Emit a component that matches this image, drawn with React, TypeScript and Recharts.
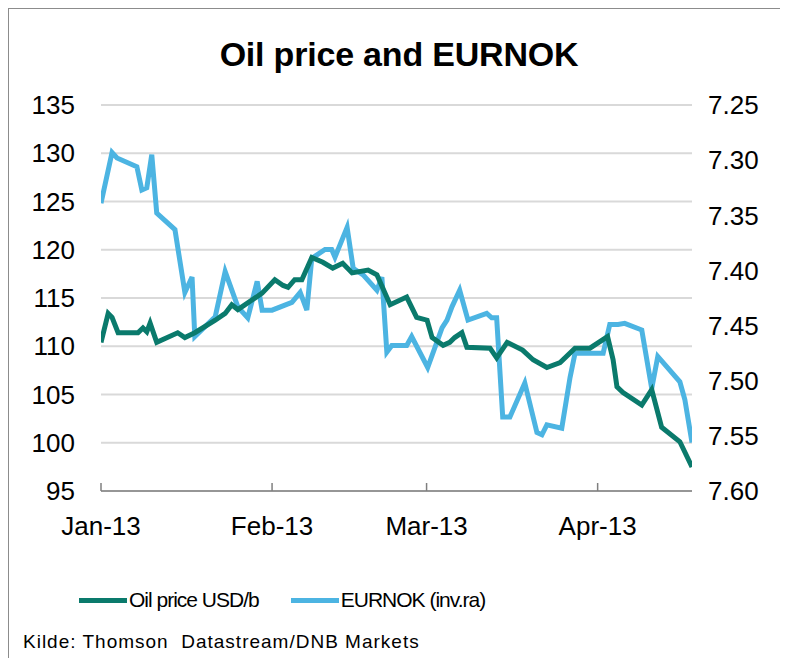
import React from 'react'
import { CartesianGrid, Line, LineChart, XAxis, YAxis } from 'recharts'

// day of year 2013 (0 = 1 Jan)
const oilDays = [
  0, 1.3, 2, 3.1, 6.7, 7.6, 8.3, 8.9, 10.1, 13.9, 15.2, 17, 20.7, 22.5, 23.7,
  24.8, 29.2, 31.5, 33, 33.9, 35.1, 36.4, 38.2, 40.2, 42, 43.8, 45.5, 48.4, 50,
  52.4, 55.4, 57.2, 59.1, 60, 62, 63.2, 64.1, 65.4, 66.3, 70.5, 71.7, 73.6, 76.4,
  78.3, 80.8, 83.2, 85.9, 88.6, 91.8, 92.8, 93.5, 94.6, 98, 99.8, 101.6, 104.9,
  107.1,
]
const oilValues = [
  110.4, 113.4, 113.0, 111.4, 111.4, 111.9, 111.5, 112.4, 110.4, 111.4, 110.9,
  111.4, 112.7, 113.4, 114.3, 113.8, 115.5, 116.9, 116.3, 116.1, 116.9, 116.9,
  119.2, 118.7, 118.1, 118.6, 117.6, 117.9, 117.4, 114.3, 115.1, 113.0, 112.7,
  110.9, 110.1, 110.4, 110.9, 111.4, 109.9, 109.8, 108.8, 110.4, 109.6, 108.6,
  107.8, 108.3, 109.8, 109.8, 111.0, 108.6, 105.8, 105.2, 103.9, 105.5, 101.6,
  100.1, 97.5,
]

const nokDays = [
  0, 2, 2.9, 6.5, 7.4, 8.3, 9.2, 10.1, 13.4, 15.2, 16.5, 17, 20.7, 22.5, 24.8,
  26.6, 28.3, 29.2, 31, 34.6, 36.1, 37.3, 38.2, 40.6, 41.8, 42.4, 44.6, 45.7,
  47.5, 50, 50.9, 51.8, 52.7, 55.4, 56.3, 59.2, 61.8, 62.7, 63.6, 65, 66.5, 69.9,
  70.8, 71.7, 72.8, 74.1, 76.8, 79, 79.9, 80.8, 83.5, 85, 85.9, 91, 92.2, 93.7,
  94.9, 98, 99.8, 100.9, 104.9, 105.8, 107.1,
]
const nokValues = [
  7.339, 7.293, 7.298, 7.306, 7.327, 7.325, 7.295, 7.348, 7.363, 7.42, 7.406,
  7.46, 7.442, 7.401, 7.433, 7.443, 7.41, 7.436, 7.436, 7.429, 7.42, 7.436,
  7.389, 7.381, 7.381, 7.388, 7.361, 7.398, 7.404, 7.418, 7.406, 7.474, 7.468,
  7.468, 7.46, 7.488, 7.452, 7.445, 7.433, 7.418, 7.445, 7.439, 7.443, 7.443,
  7.533, 7.533, 7.502, 7.547, 7.549, 7.54, 7.543, 7.497, 7.475, 7.475, 7.449,
  7.449, 7.448, 7.454, 7.507, 7.478, 7.501, 7.517, 7.556,
]

const monthTicks = [0, 31, 59, 90]
const monthLabels = ['Jan-13', 'Feb-13', 'Mar-13', 'Apr-13']
const leftTicks = [95, 100, 105, 110, 115, 120, 125, 130, 135]
const rightTicks = [7.25, 7.3, 7.35, 7.4, 7.45, 7.5, 7.55, 7.6]

const oilData = oilDays.map((d, i) => ({ day: d, oil: oilValues[i] }))
const nokData = nokDays.map((d, i) => ({ day: d, nok: nokValues[i] }))

const OIL = '#0a7a6c'
const NOK = '#4cb4e2'
const FONT = 'Arial, "Liberation Sans", sans-serif'

export default function App() {
  return (
    <div
      style={{
        position: 'relative',
        width: 780,
        height: 650,
        borderTop: '1px solid #8c8c8c',
        borderLeft: '1px solid #8c8c8c',
        boxSizing: 'border-box',
        fontFamily: FONT,
        background: '#fff',
      }}
    >
      <div
        style={{
          position: 'absolute',
          top: 26,
          left: 0,
          width: 780,
          textAlign: 'center',
          fontSize: 34,
          fontWeight: 'bold',
          letterSpacing: -0.2,
          color: '#000',
        }}
      >
        Oil price and EURNOK
      </div>
      <div style={{ position: 'absolute', top: -1, left: -1 }}>
        <LineChart
          width={780}
          height={550}
          margin={{ top: 97, right: 26, left: 33, bottom: 22 }}
        >
          <CartesianGrid
            yAxisId='left'
            vertical={false}
            stroke='#d9d9d9'
            strokeWidth={2}
          />
          <XAxis
            dataKey='day'
            type='number'
            domain={[0, 107.1]}
            ticks={monthTicks}
            tickFormatter={(v) => monthLabels[monthTicks.indexOf(v)]}
            height={45}
            stroke='#7f7f7f'
            strokeWidth={1.5}
            tickSize={-8}
            tickMargin={34}
            tick={{ fill: '#000', fontSize: 26, fontFamily: FONT }}
            allowDataOverflow
          />
          <YAxis
            yAxisId='left'
            width={60}
            domain={[95, 135]}
            ticks={leftTicks}
            axisLine={false}
            tickLine={false}
            tickMargin={20}
            tick={{ fill: '#000', fontSize: 26, fontFamily: FONT }}
          />
          <YAxis
            yAxisId='right'
            orientation='right'
            width={70}
            domain={[7.25, 7.6]}
            reversed
            ticks={rightTicks}
            tickFormatter={(v) => v.toFixed(2)}
            axisLine={false}
            tickLine={false}
            tickMargin={10}
            tick={{ fill: '#000', fontSize: 26, fontFamily: FONT }}
          />
          <Line
            yAxisId='right'
            data={nokData}
            dataKey='nok'
            stroke={NOK}
            strokeWidth={5}
            dot={false}
            isAnimationActive={false}
          />
          <Line
            yAxisId='left'
            data={oilData}
            dataKey='oil'
            stroke={OIL}
            strokeWidth={5}
            dot={false}
            isAnimationActive={false}
          />
        </LineChart>
      </div>
      <div
        style={{
          position: 'absolute',
          top: 579,
          left: 70,
          display: 'flex',
          alignItems: 'center',
          fontSize: 21,
          letterSpacing: -1,
          color: '#000',
        }}
      >
        <span
          style={{ width: 48, height: 5, background: OIL, display: 'inline-block' }}
        />
        <span style={{ marginLeft: 2 }}>Oil price USD/b</span>
        <span
          style={{
            width: 48,
            height: 5,
            background: NOK,
            display: 'inline-block',
            marginLeft: 32,
          }}
        />
        <span style={{ marginLeft: 2 }}>EURNOK (inv.ra)</span>
      </div>
      <div
        style={{
          position: 'absolute',
          top: 622,
          left: 14,
          fontSize: 19,
          letterSpacing: 1,
          color: '#000',
          whiteSpace: 'pre',
        }}
      >
        {'Kilde: Thomson  Datastream/DNB Markets'}
      </div>
    </div>
  )
}
